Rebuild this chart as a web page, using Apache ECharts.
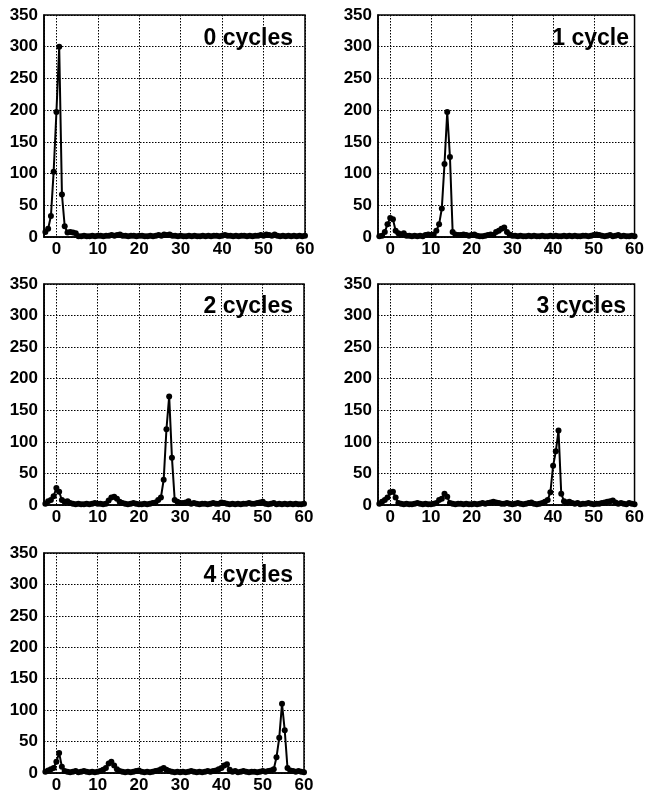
<!DOCTYPE html>
<html>
<head>
<meta charset="utf-8">
<script src="https://cdn.jsdelivr.net/npm/echarts@6/dist/echarts.min.js"></script>
<style>
html,body{margin:0;padding:0;background:#fff;}
#chart{width:647px;height:797px;}
</style>
</head>
<body>
<div id="chart"></div>
<script>
// sample positions (x axis)
var X = [-2.67,-2,-1.33,-0.67,0,0.67,1.33,2,2.67,3.33,
  4,4.67,5.33,6,6.67,7.33,8,8.67,9.33,10,
  10.67,11.33,12,12.67,13.33,14,14.67,15.33,16,16.67,
  17.33,18,18.67,19.33,20,20.67,21.33,22,22.67,23.33,
  24,24.67,25.33,26,26.67,27.33,28,28.67,29.33,30,
  30.67,31.33,32,32.67,33.33,34,34.67,35.33,36,36.67,
  37.33,38,38.67,39.33,40,40.67,41.33,42,42.67,43.33,
  44,44.67,45.33,46,46.67,47.33,48,48.67,49.33,50,
  50.67,51.33,52,52.67,53.33,54,54.67,55.33,56,56.67,
  57.33,58,58.67,59.33,60];

var titles = ["0 cycles", "1 cycle", "2 cycles", "3 cycles", "4 cycles"];

var cycles0 = [8,13,33,103,197,300,67,17,7,8,
  7,6,1,1,2,1,1,2,1,2,
  2,1,2,2,3,2,3,4,2,2,
  1,2,2,1,2,2,1,1,2,1,
  2,3,2,4,3,4,2,2,1,2,
  1,1,2,1,2,1,1,2,1,2,
  1,2,2,1,2,3,2,2,1,2,
  1,2,2,1,2,1,2,2,3,2,
  4,3,2,4,2,1,2,1,2,1,
  2,1,2,1,2];

var cycles1 = [1,2,8,20,30,28,10,6,4,6,
  2,2,1,2,1,2,1,3,4,3,
  4,10,20,45,115,197,126,8,4,3,
  3,4,3,2,3,4,2,1,1,2,
  3,4,3,8,10,13,15,8,4,2,
  2,1,2,1,1,2,1,2,1,1,
  2,1,1,2,1,2,1,1,2,1,
  2,1,2,1,1,2,2,1,2,3,
  4,3,2,1,2,3,1,2,3,1,
  2,1,1,2,1];

var cycles2 = [2,6,8,14,27,21,8,5,6,3,
  2,1,2,1,1,2,1,2,3,2,
  2,1,2,7,12,13,10,5,3,2,
  1,2,3,2,1,1,2,1,2,3,
  4,8,12,40,120,172,75,8,5,3,
  3,4,6,2,3,2,1,2,2,1,
  2,3,2,2,4,3,2,1,2,1,
  2,1,2,2,3,2,2,3,4,5,
  2,1,2,3,1,2,1,2,1,2,
  1,2,1,1,2];

var cycles3 = [2,5,8,12,20,21,12,3,2,1,
  2,1,1,2,3,2,1,2,1,1,
  2,3,8,10,18,13,3,2,1,2,
  2,1,2,1,1,2,1,2,3,2,
  3,4,5,4,3,2,2,3,2,1,
  2,3,2,1,2,3,4,2,1,2,
  3,5,8,20,62,85,118,18,6,4,
  5,3,2,3,1,2,2,3,2,1,
  2,2,3,4,5,6,7,4,2,3,
  2,1,3,2,1];

var cycles4 = [2,4,6,8,18,32,10,3,2,1,
  2,3,1,2,3,2,1,2,1,2,
  3,5,8,15,18,12,6,3,2,1,
  2,1,2,3,4,2,1,2,1,2,
  3,4,6,8,5,3,2,1,2,1,
  2,1,2,3,2,1,2,1,2,3,
  2,3,4,6,8,12,14,5,2,3,
  1,2,3,2,1,2,2,1,2,3,
  2,3,4,6,25,56,110,68,8,4,
  3,2,3,2,1];

var seriesValues = [cycles0, cycles1, cycles2, cycles3, cycles4];

var panels = [
  {left: 44, top: 15, width: 261, height: 222, tRight: 349, tTop: 22},
  {left: 378, top: 15, width: 262, height: 222, tRight: 13, tTop: 22},
  {left: 44, top: 284, width: 260, height: 221, tRight: 349, tTop: 290},
  {left: 378, top: 284, width: 262, height: 221, tRight: 16, tTop: 290},
  {left: 44, top: 553, width: 260, height: 220, tRight: 349, tTop: 559}
];

var FONT = "'Liberation Sans', Arial, Helvetica, sans-serif";
var grids = [], xAxes = [], yAxes = [], series = [], titleArr = [];

panels.forEach(function (p, i) {
  grids.push({left: p.left, top: p.top, width: p.width, height: p.height,
    show: true, borderColor: '#000', borderWidth: 1.5, backgroundColor: 'transparent', containLabel: false});
  xAxes.push({
    type: 'value', gridIndex: i, min: -3, max: 60, splitNumber: 6,
    axisLine: {show: true, onZero: false, lineStyle: {color: '#000', width: 1.5}},
    axisTick: {show: false},
    axisLabel: {color: '#000', fontSize: 17, fontWeight: 'bold', fontFamily: FONT, margin: 4,
      showMinLabel: false,
      formatter: function (v) { return (v % 10 === 0) ? String(v) : ''; }},
    splitLine: {show: true, lineStyle: {color: '#000', width: 1, type: [1.5, 1.5]}}
  });
  yAxes.push({
    type: 'value', gridIndex: i, min: 0, max: 350, interval: 50,
    axisLine: {show: true, onZero: false, lineStyle: {color: '#000', width: 1.5}},
    axisTick: {show: false},
    axisLabel: {color: '#000', fontSize: 17, fontWeight: 'bold', fontFamily: FONT, margin: 6},
    splitLine: {show: true, lineStyle: {color: '#000', width: 1, type: [1.5, 1.5]}}
  });
  series.push({
    type: 'line', xAxisIndex: i, yAxisIndex: i,
    data: X.map(function (x, k) { return [x, seriesValues[i][k]]; }),
    symbol: 'circle', symbolSize: 6, showSymbol: true,
    lineStyle: {color: '#000', width: 2},
    itemStyle: {color: '#000'},
    animation: false
  });
  titleArr.push({
    text: titles[i], right: p.tRight, top: p.tTop,
    textStyle: {color: '#000', fontSize: 23, fontWeight: 'bold', fontFamily: FONT}
  });
});

var chart = echarts.init(document.getElementById('chart'), null, {renderer: 'canvas'});
chart.setOption({
  animation: false,
  backgroundColor: '#fff',
  title: titleArr,
  grid: grids,
  xAxis: xAxes,
  yAxis: yAxes,
  series: series
});
</script>
</body>
</html>
